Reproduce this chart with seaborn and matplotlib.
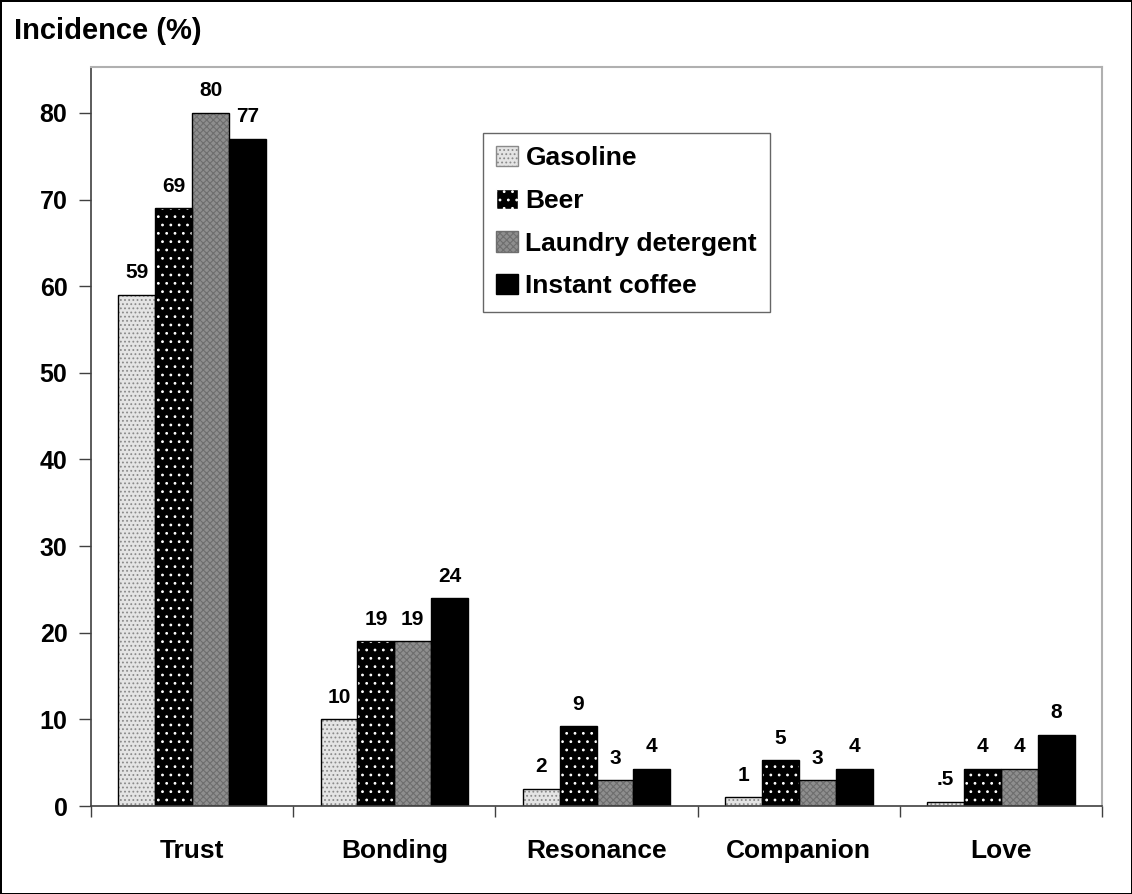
import numpy as np
import pandas as pd
import seaborn as sns
import matplotlib.pyplot as plt
from matplotlib.patches import Patch, Rectangle


categories = ["Trust", "Bonding", "Resonance", "Companion", "Love"]
products = ["Gasoline", "Beer", "Laundry detergent", "Instant coffee"]

gasoline = [59, 10, 2, 1, 0.5]
beer = [69, 19, 9.2, 5.3, 4.3]
laundry = [80, 19, 3, 3, 4.3]
coffee = [77, 24, 4.3, 4.3, 8.2]

gasoline_labels = ["59", "10", "2", "1", ".5"]
beer_labels = ["69", "19", "9", "5", "4"]
laundry_labels = ["80", "19", "3", "3", "4"]
coffee_labels = ["77", "24", "4", "4", "8"]

yticks = [0, 10, 20, 30, 40, 50, 60, 70, 80]

series = [gasoline, beer, laundry, coffee]
labels = [gasoline_labels, beer_labels, laundry_labels, coffee_labels]

df = pd.DataFrame(
    {
        "Category": categories * len(products),
        "Product": np.repeat(products, len(categories)),
        "Incidence": np.concatenate(series),
    }
)

# face colour, hatch, hatch colour per product
styles = [
    ("#e4e4e4", "....", "#8a8a8a"),
    ("#000000", "..", "#ffffff"),
    ("#8e8e8e", "xxxxx", "#6e6e6e"),
    ("#000000", "", "#000000"),
]

sns.set_theme(style="white")
plt.rcParams["font.family"] = ["Liberation Sans", "DejaVu Sans"]
plt.rcParams["font.weight"] = "bold"
plt.rcParams["text.color"] = "black"
plt.rcParams["hatch.linewidth"] = 0.8

fig = plt.figure(figsize=(11.32, 8.94), dpi=100)
fig.patch.set_edgecolor("black")
fig.patch.set_linewidth(2)
ax = fig.add_axes([0.0804, 0.0984, 0.8931, 0.8266])

sns.barplot(
    data=df,
    x="Category",
    y="Incidence",
    hue="Product",
    order=categories,
    hue_order=products,
    width=0.73,
    legend=False,
    ax=ax,
)

for container, (face, hatch, hcol), labs in zip(ax.containers, styles, labels):
    for bar, lab in zip(container, labs):
        bar.set_facecolor(face)
        bar.set_hatch(hatch)
        bar.set_edgecolor(hcol)
        bar.set_linewidth(0)
        ax.add_patch(
            Rectangle(
                bar.get_xy(),
                bar.get_width(),
                bar.get_height(),
                fill=False,
                edgecolor="black",
                linewidth=1,
            )
        )
        ax.annotate(
            lab,
            (bar.get_x() + bar.get_width() / 2, bar.get_height()),
            xytext=(0, 9),
            textcoords="offset points",
            ha="center",
            va="bottom",
            fontsize=15,
            fontweight="bold",
            color="black",
        )

ax.set_xlim(-0.5, len(categories) - 0.5)
ax.set_ylim(0, 85.3)
ax.set_yticks(yticks)
ax.set_xlabel("")
ax.set_ylabel("")

ax.set_xticks(range(len(categories)))
ax.set_xticklabels(categories, fontsize=19, fontweight="bold")
ax.set_xticks(np.arange(-0.5, len(categories)), minor=True)
ax.tick_params(axis="x", which="major", length=0, pad=24, labelcolor="black")
ax.tick_params(axis="x", which="minor", length=8, width=1, color="#404040", direction="out", bottom=True)
ax.tick_params(axis="y", length=9, width=1, color="#404040", labelcolor="black",
               direction="out", left=True, pad=8, labelsize=18)
for t in ax.get_yticklabels():
    t.set_fontweight("bold")

for side in ["left", "bottom"]:
    ax.spines[side].set_color("#404040")
    ax.spines[side].set_linewidth(1.2)
for side in ["top", "right"]:
    ax.spines[side].set_color("#b0b0b0")
    ax.spines[side].set_linewidth(1.5)

handles = [
    Patch(facecolor=face, hatch=hatch, edgecolor=hcol if hatch else "black", label=name)
    for (face, hatch, hcol), name in zip(styles, products)
]
leg = ax.legend(
    handles=handles,
    loc="upper left",
    bbox_to_anchor=(0.388, 0.911),
    fontsize=19,
    frameon=True,
    fancybox=False,
    edgecolor="#404040",
    handlelength=0.8,
    handleheight=0.8,
    handletextpad=0.3,
    labelspacing=0.7,
    borderpad=0.5,
    borderaxespad=0,
    labelcolor="black",
)
leg.get_frame().set_linewidth(1)
for t in leg.get_texts():
    t.set_fontweight("bold")

fig.text(0.012, 0.965, "Incidence (%)", fontsize=21, fontweight="bold",
         ha="left", va="center", color="black")

fig.savefig("out.png", dpi=100)
